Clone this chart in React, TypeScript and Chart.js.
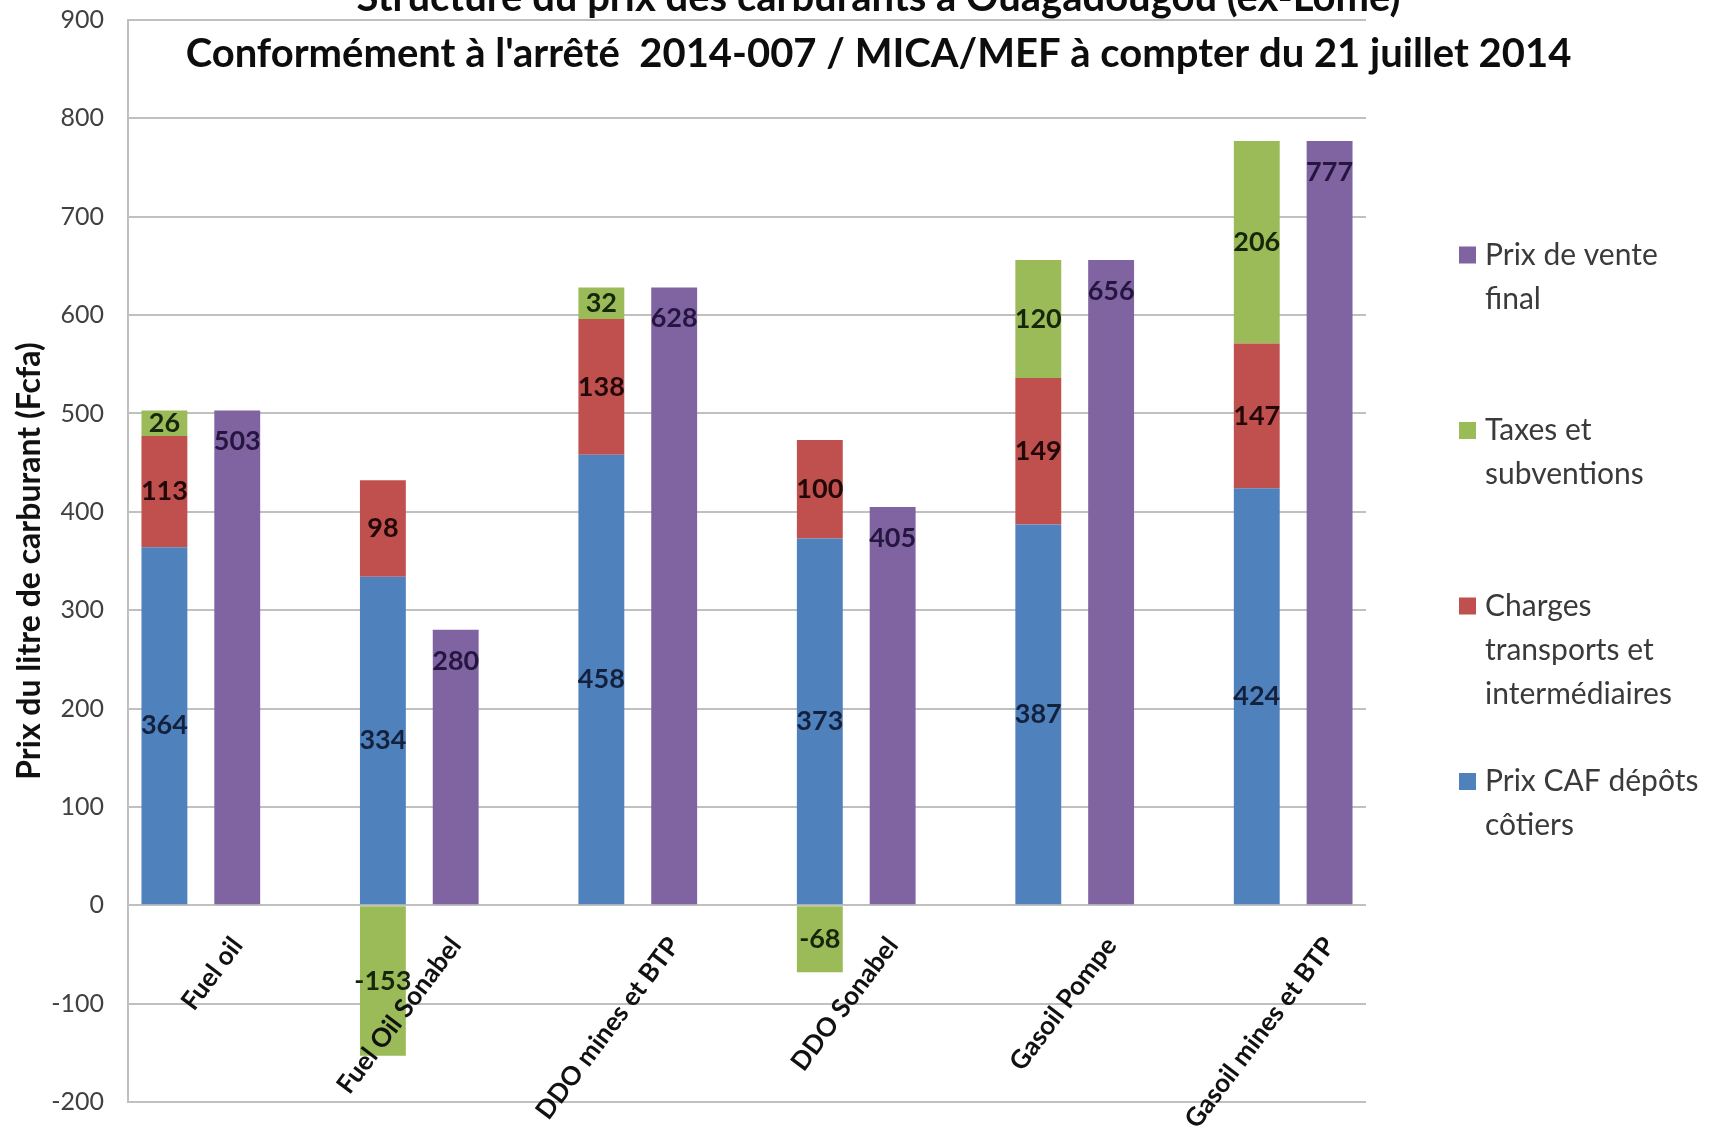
import React, { useEffect, useRef } from "react";
import { Chart, registerables } from "chart.js";

Chart.register(...registerables);

// ---- data ----
const categories = [
  "Fuel oil",
  "Fuel Oil Sonabel",
  "DDO mines et BTP",
  "DDO Sonabel",
  "Gasoil Pompe",
  "Gasoil mines et BTP",
];
const prixCaf = [364, 334, 458, 373, 387, 424];
const chargesTransport = [113, 98, 138, 100, 149, 147];
const taxesSubventions = [26, -153, 32, -68, 120, 206];
const prixVenteFinal = [503, 280, 628, 405, 656, 777];

const yMin = -200;
const yMax = 900;
const yStep = 100;

const titleLines = [
  "Structure du prix des carburants à Ouagadougou (ex-Lomé)",
  "Conformément à l'arrêté  2014-007 / MICA/MEF à compter du 21 juillet 2014",
];
const yAxisTitle = "Prix du litre de carburant (Fcfa)";

const seriesNames = [
  "Prix CAF dépôts côtiers",
  "Charges transports et intermédiaires",
  "Taxes et subventions",
  "Prix de vente final",
];

// ---- styling ----
const FONT = "Lato, 'Open Sans', sans-serif";
const COLORS = ["#4F81BD", "#C0504D", "#9BBB59", "#8064A2"];
const LABEL_COLORS = ["#14213D", "#220808", "#17260A", "#241640"];
const GRID = "#C0C0C0";

// Each fuel occupies three slots on the category axis: the stacked
// breakdown, the final price and an empty spacer (none after the last).
const SLOTS_PER_GROUP = 3;
const slotCount = categories.length * SLOTS_PER_GROUP - 1;

function slotLabels(): string[] {
  const out: string[] = new Array(slotCount).fill("");
  categories.forEach((c, i) => {
    out[i * SLOTS_PER_GROUP + 1] = c;
  });
  return out;
}

function toSlots(values: number[], offset: number): (number | null)[] {
  const out: (number | null)[] = new Array(slotCount).fill(null);
  values.forEach((v, i) => {
    out[i * SLOTS_PER_GROUP + offset] = v;
  });
  return out;
}

function wrapWords(ctx: CanvasRenderingContext2D, text: string, maxWidth: number): string[] {
  const words = text.split(" ");
  const lines: string[] = [];
  let cur = "";
  for (const w of words) {
    const t = cur ? cur + " " + w : w;
    if (cur && ctx.measureText(t).width > maxWidth) {
      lines.push(cur);
      cur = w;
    } else {
      cur = t;
    }
  }
  if (cur) lines.push(cur);
  return lines;
}

// value labels inside each bar segment
const valueLabelsPlugin = {
  id: "valueLabels",
  afterDatasetsDraw(chart: any) {
    const ctx: CanvasRenderingContext2D = chart.ctx;
    ctx.save();
    ctx.font = `bold 27px ${FONT}`;
    ctx.textAlign = "center";
    ctx.textBaseline = "middle";
    chart.data.datasets.forEach((ds: any, di: number) => {
      const meta = chart.getDatasetMeta(di);
      meta.data.forEach((bar: any, i: number) => {
        const v = ds.data[i];
        if (v === null || v === undefined) return;
        const { x, y, base } = bar.getProps(["x", "y", "base"], true);
        const ly = ds.insideEnd ? y + 31 : (y + base) / 2;
        ctx.fillStyle = LABEL_COLORS[di];
        ctx.fillText(String(v), x, ly);
      });
    });
    ctx.restore();
  },
};

// two-line heading drawn over the top of the plot
const headingPlugin = {
  id: "heading",
  afterDraw(chart: any) {
    const ctx: CanvasRenderingContext2D = chart.ctx;
    ctx.save();
    ctx.font = `bold 40px ${FONT}`;
    ctx.fillStyle = "#0d0d0d";
    ctx.textAlign = "center";
    ctx.textBaseline = "alphabetic";
    const cx = chart.width / 2 + 20;
    ctx.fillText(titleLines[0], cx, 11);
    ctx.fillText(titleLines[1], cx, 67);
    ctx.restore();
  },
};

// legend at the right, series listed from top of stack downward
const sideLegendPlugin = {
  id: "sideLegend",
  afterDraw(chart: any) {
    const ctx: CanvasRenderingContext2D = chart.ctx;
    const area = chart.chartArea;
    const boxX = area.right + 93;
    const box = 17;
    const textX = boxX + 26;
    const firstY = 255;
    const itemStep = 175.5;
    const lineH = 44;
    ctx.save();
    ctx.font = `30px ${FONT}`;
    ctx.textAlign = "left";
    ctx.textBaseline = "middle";
    const order = [3, 2, 1, 0];
    order.forEach((di, k) => {
      const ds = chart.data.datasets[di];
      const y0 = firstY + k * itemStep;
      ctx.fillStyle = COLORS[di];
      ctx.fillRect(boxX, y0 - box / 2, box, box);
      ctx.fillStyle = "#3a3a3a";
      const lines = wrapWords(ctx, ds.label, chart.width - textX - 8);
      lines.forEach((ln, j) => ctx.fillText(ln, textX, y0 + j * lineH));
    });
    ctx.restore();
  },
};

export default function App() {
  const canvasRef = useRef<HTMLCanvasElement | null>(null);

  useEffect(() => {
    const canvas = canvasRef.current;
    if (!canvas) return;
    Chart.defaults.font.family = FONT;

    const chart = new Chart(canvas, {
      type: "bar",
      data: {
        labels: slotLabels(),
        datasets: [
          { label: seriesNames[0], data: toSlots(prixCaf, 0), backgroundColor: COLORS[0] },
          { label: seriesNames[1], data: toSlots(chargesTransport, 0), backgroundColor: COLORS[1] },
          { label: seriesNames[2], data: toSlots(taxesSubventions, 0), backgroundColor: COLORS[2] },
          { label: seriesNames[3], data: toSlots(prixVenteFinal, 1), backgroundColor: COLORS[3], insideEnd: true } as any,
        ],
      },
      options: {
        responsive: false,
        animation: false,
        devicePixelRatio: 1,
        layout: { padding: { top: 20, right: 351, bottom: 33, left: 0 } },
        datasets: {
          bar: { barPercentage: 0.63, categoryPercentage: 1, borderWidth: 0 },
        },
        plugins: {
          legend: { display: false },
          title: { display: false },
          tooltip: { enabled: false },
        },
        scales: {
          x: {
            type: "category",
            stacked: true,
            offset: true,
            position: { y: 0 } as any,
            grid: { display: false, drawTicks: false, tickLength: 0 },
            border: { display: false },
            ticks: {
              z: 1,
              autoSkip: false,
              minRotation: 53,
              maxRotation: 53,
              padding: 26,
              color: "#111111",
              font: { size: 26, weight: "bold" },
            },
          },
          y: {
            stacked: true,
            min: yMin,
            max: yMax,
            ticks: {
              stepSize: yStep,
              padding: 0,
              color: "#404040",
              font: { size: 25 },
            },
            grid: {
              color: GRID,
              lineWidth: 2,
              drawTicks: true,
              tickLength: 24,
              tickColor: "rgba(0,0,0,0)",
            },
            border: { display: true, color: GRID, width: 2 },
            title: {
              display: true,
              text: yAxisTitle,
              color: "#111111",
              font: { size: 32, weight: "bold" },
              padding: { top: 10, bottom: 0 },
            },
            afterFit: (scale: any) => {
              scale.width = 128;
            },
          },
        },
      },
      plugins: [valueLabelsPlugin, headingPlugin, sideLegendPlugin],
    } as any);

    return () => chart.destroy();
  }, []);

  return (
    <div style={{ position: "fixed", left: 0, top: 0, width: 1717, height: 1135, background: "#ffffff" }}>
      <canvas ref={canvasRef} width={1717} height={1135} style={{ display: "block" }} />
    </div>
  );
}
